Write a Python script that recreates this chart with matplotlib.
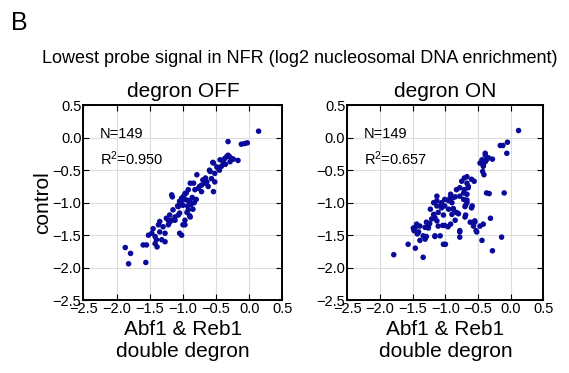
import matplotlib
matplotlib.use("Agg")
import matplotlib.pyplot as plt
import numpy as np

plt.rcParams['font.family'] = ['Liberation Sans', 'DejaVu Sans']
plt.rcParams['mathtext.fontset'] = 'custom'
plt.rcParams['mathtext.rm'] = 'Liberation Sans'
plt.rcParams['mathtext.it'] = 'Liberation Sans'

# degron OFF panel (x: Abf1 & Reb1 double degron, y: control)
off_x = [0.14, -0.32, -0.12, -0.07, -0.03,
         -0.32, -0.37, -0.27, -0.44, -0.39, -0.29, -0.17, -0.30, -0.34, -0.24,
         -0.54, -0.47, -0.52, -0.59, -0.57, -0.52, -0.54, -0.55, -0.49, -0.45, -0.60,
         -0.79, -0.67, -0.72, -0.62, -0.77, -0.82, -0.72, -0.89, -0.92, -0.97, -0.70, -0.64, -0.84,
         -1.02, -0.94, -1.05, -0.89, -1.00, -1.17, -1.07, -1.15, -0.92, -0.89, -1.20, -1.07, -1.22,
         -1.12, -1.00, -0.97, -0.95, -0.98, -0.90, -0.93, -0.88, -0.86, -0.85, -0.94, -0.90, -0.83,
         -0.80, -1.08, -1.16, -1.05, -0.99, -1.03, -0.75, -0.66, -0.42, -0.36,
         -1.35, -1.37, -1.30, -1.22, -1.17, -1.12, -1.25, -1.05, -0.97, -1.05, -1.02,
         -1.52, -1.47, -1.42, -1.40, -1.32, -1.27, -1.27, -1.35, -1.45, -1.20,
         -1.60, -1.55, -1.39, -1.42,
         -1.87, -1.79, -1.82, -1.56]
off_y = [0.10, -0.06, -0.10, -0.09, -0.08,
         -0.27, -0.32, -0.32, -0.34, -0.39, -0.37, -0.35, -0.29, -0.29, -0.33,
         -0.39, -0.47, -0.55, -0.52, -0.63, -0.68, -0.83, -0.38, -0.45, -0.50, -0.50,
         -0.57, -0.70, -0.73, -0.75, -0.78, -0.80, -0.83, -0.70, -0.80, -0.86, -0.65, -0.68, -0.70,
         -0.93, -0.96, -0.98, -1.01, -1.04, -0.88, -1.06, -1.11, -1.11, -1.22, -1.19, -1.19, -1.27,
         -1.27, -1.34, -1.27, -0.85, -0.95, -0.97, -1.05, -1.03, -0.92, -1.10, -1.15, -1.20, -1.00,
         -0.95, -1.05, -0.91, -0.98, -0.90, -1.00, -0.75, -0.62, -0.44, -0.41,
         -1.29, -1.34, -1.37, -1.34, -1.27, -1.22, -1.24, -1.16, -1.34, -1.47, -1.50,
         -1.50, -1.47, -1.52, -1.57, -1.57, -1.60, -1.47, -1.45, -1.40, -1.30,
         -1.65, -1.65, -1.68, -1.63,
         -1.69, -1.78, -1.94, -1.92]

# degron ON panel
on_x = [0.12, -0.05, -0.12, -0.16, -0.06,
        -0.39, -0.34, -0.28, -0.44, -0.39, -0.42, -0.43, -0.41, -0.37, -0.47, -0.42, -0.39,
        -0.71, -0.67, -0.60, -0.56, -0.75, -0.67, -0.83, -0.78, -0.71, -0.65, -0.72, -0.67,
        -0.92, -0.88, -0.78, -0.65, -0.85, -0.93, -0.67, -1.06,
        -0.37, -0.33, -0.10,
        -0.72, -0.67, -0.69, -0.59,
        -1.13, -1.13, -1.06, -1.01, -0.95, -0.90, -1.18, -1.13, -1.06, -1.01, -0.95, -0.88,
        -0.83, -0.90, -1.23, -1.18, -1.11, -1.16, -1.21, -1.13, -1.29, -1.26, -1.31, -1.39,
        -1.44, -1.46, -1.48, -1.41, -1.43, -1.34, -1.31, -1.39,
        -1.11, -1.04, -1.01, -0.92, -1.16, -1.08, -1.03, -1.00,
        -0.88, -0.70, -0.60, -1.03, -0.85, -0.70, -0.55, -1.24, -0.96, -1.49, -1.26,
        -1.29, -1.16, -0.78, -0.52,
        -0.80, -0.78, -0.78, -0.69, -0.62, -0.57, -0.53, -0.47, -0.42, -0.31, -0.44, -0.28,
        -0.14, -0.55,
        -1.57, -1.46, -1.34, -1.79]
on_y = [0.11, -0.07, -0.12, -0.12, -0.24,
        -0.24, -0.31, -0.33, -0.34, -0.37, -0.44, -0.52, -0.57, -0.34, -0.39, -0.42, -0.27,
        -0.62, -0.60, -0.64, -0.67, -0.67, -0.70, -0.80, -0.77, -0.80, -0.77, -0.85, -0.87,
        -0.87, -0.92, -0.90, -0.75, -0.91, -0.93, -0.96, -1.04,
        -0.85, -0.86, -0.85,
        -0.95, -1.00, -1.04, -1.05,
        -0.90, -0.97, -1.00, -0.95, -0.97, -1.00, -1.00, -1.05, -1.08, -1.05, -1.10, -1.10,
        -1.15, -1.18, -1.10, -1.18, -1.15, -1.23, -1.25, -1.28, -1.30, -1.36, -1.38, -1.36,
        -1.33, -1.38, -1.43, -1.45, -1.48, -1.51, -1.56, -1.58,
        -1.36, -1.35, -1.35, -1.33, -1.51, -1.51, -1.64, -1.64,
        -1.09, -1.06, -1.08, -1.19, -1.27, -1.22, -1.28, -1.32, -1.37, -1.39, -1.39,
        -1.52, -1.52, -1.45, -1.45,
        -1.17, -1.43, -1.53, -1.19, -1.30, -1.36, -1.43, -1.36, -1.33, -1.24, -1.58, -1.74,
        -1.53, -1.30,
        -1.64, -1.70, -1.84, -1.80]

ticks = [-2.5, -2.0, -1.5, -1.0, -0.5, 0.0, 0.5]
tick_labels = ['\u22122.5', '\u22122.0', '\u22121.5', '\u22121.0', '\u22120.5', '0.0', '0.5']
panel_titles = ['degron OFF', 'degron ON']
r2_labels = ['0.950', '0.657']
n_label = '149'

fig = plt.figure(figsize=(5.69, 3.73), dpi=100)
ax1 = fig.add_axes([0.1467, 0.1952, 0.3497, 0.5228])
ax2 = fig.add_axes([0.6105, 0.1952, 0.3445, 0.5228])

for ax, xs, ys, title, r2 in [(ax1, off_x, off_y, panel_titles[0], r2_labels[0]),
                              (ax2, on_x, on_y, panel_titles[1], r2_labels[1])]:
    ax.set_xlim(-2.5, 0.5)
    ax.set_ylim(-2.5, 0.5)
    ax.set_xticks(ticks)
    ax.set_yticks(ticks)
    ax.set_xticklabels(tick_labels, fontsize=10.5)
    ax.set_yticklabels(tick_labels, fontsize=10.5)
    ax.grid(True, color='#dcdcdc', lw=0.8)
    ax.set_axisbelow(True)
    ax.tick_params(direction='in', top=True, right=True, length=4, width=0.8, pad=1.5)
    for s in ax.spines.values():
        s.set_linewidth(1.4)
    ax.scatter(xs, ys, s=16, color='#0a0a9a', edgecolors='none', zorder=3)
    ax.set_title(title, fontsize=15, pad=6)
    ax.set_xlabel('Abf1 & Reb1\ndouble degron', fontsize=15, labelpad=3, linespacing=1.15)
    ax.text(-2.25, 0.0, 'N=' + n_label, fontsize=10.5)
    ax.text(-2.25, -0.42, 'R$^{2}$=' + r2, fontsize=10.5)

ax1.set_ylabel('control', fontsize=15, labelpad=0)

fig.text(0.02, 0.92, 'B', fontsize=18)
fig.text(0.527, 0.83, 'Lowest probe signal in NFR (log2 nucleosomal DNA enrichment)',
         fontsize=13, ha='center')

fig.savefig('out.png', dpi=100)
